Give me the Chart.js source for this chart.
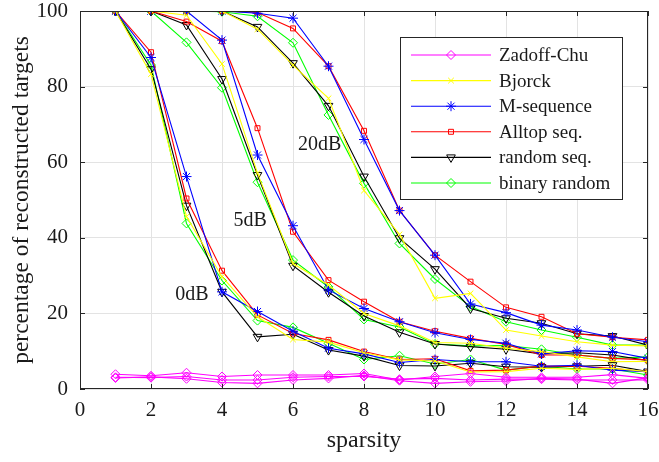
<!DOCTYPE html>
<html>
<head>
<meta charset="utf-8">
<script src="https://cdn.jsdelivr.net/npm/chart.js@4/dist/chart.umd.min.js"></script>
<style>
  html, body { margin: 0; padding: 0; background: #ffffff; }
  #wrap { width: 659px; height: 462px; }
</style>
</head>
<body>
<div id="wrap"><canvas id="c" width="659" height="462"></canvas></div>
<script>
// ---------- data ----------
const sparsity = [1,2,3,4,5,6,7,8,9,10,11,12,13,14,15,16];
const xTicks = [0,2,4,6,8,10,12,14,16];
const yTicks = [0,20,40,60,80,100];

const methodNames = ["Zadoff-Chu", "Bjorck", "M-sequence", "Alltop seq.", "random seq.", "binary random"];
const snrLabels = ["0dB", "5dB", "20dB"];

// Zadoff-Chu (three SNRs, near the bottom)
const zc0  = [3.9, 3.5, 4.3, 3.3, 3.7, 3.7, 3.7, 4.1, 2.4, 3.3, 4.1, 3.1, 3.1, 3.1, 3.8, 2.8];
const zc5  = [3.1, 3.0, 3.3, 2.4, 2.4, 3.1, 3.3, 3.3, 2.6, 2.8, 2.4, 2.6, 2.6, 2.4, 2.4, 2.4];
const zc20 = [2.9, 3.2, 2.7, 1.7, 1.5, 2.4, 2.8, 3.6, 2.2, 1.5, 1.9, 2.1, 2.8, 2.6, 1.5, 3.0];

// 0 dB
const bjorck0 = [100, 83.3, 45.6, 29.7, 19.1, 13.1, 12.4, 9.6, 7.7, 7.4, 4.5, 4.6, 5.5, 5.2, 5.5, 4.6];
const mseq0   = [100, 87.7, 56.2, 25.7, 20.5, 15.3, 10.8, 9.3, 7.0, 7.8, 7.2, 7.2, 6.0, 6.3, 5.0, 4.6];
const alltop0 = [100, 89.1, 50.4, 31.3, 19.6, 14.7, 13.0, 9.9, 7.8, 8.0, 4.8, 5.0, 6.1, 6.0, 5.5, 4.5];
const rand0   = [100, 84.6, 48.5, 25.7, 13.8, 14.5, 10.3, 8.7, 6.2, 6.1, 6.8, 5.9, 5.8, 6.0, 6.3, 4.6];
const binr0   = [100, 85.7, 43.8, 28.7, 18.1, 16.3, 12.1, 7.8, 8.8, 6.6, 7.8, 5.0, 6.0, 5.3, 5.3, 3.7];

// 5 dB
const bjorck5 = [100, 100, 98.9, 86.0, 57.1, 33.2, 27.5, 20.0, 16.7, 12.3, 12.1, 10.8, 9.9, 8.5, 7.2, 7.3];
const mseq5   = [100, 100, 100, 92.3, 61.9, 43.2, 26.2, 21.3, 17.8, 14.9, 13.1, 12.1, 9.3, 10.1, 9.9, 8.1];
const alltop5 = [100, 100, 97.2, 92.0, 69.0, 41.6, 28.8, 23.1, 17.8, 15.3, 13.4, 11.8, 9.0, 9.0, 8.1, 7.7];
const rand5   = [100, 100, 96.3, 82.0, 56.6, 32.6, 25.6, 19.3, 15.0, 11.9, 11.2, 10.5, 9.3, 9.6, 9.0, 7.5];
const binr5   = [100, 100, 91.7, 79.7, 54.7, 34.1, 27.0, 18.4, 16.4, 11.9, 11.4, 11.5, 10.5, 9.0, 8.1, 8.5];

// 20 dB
const bjorck20 = [100, 100, 100, 100, 95.2, 85.7, 76.9, 52.5, 40.9, 24.0, 25.3, 15.6, 14.0, 12.5, 11.6, 11.4];
const mseq20   = [100, 100, 100, 100, 99.4, 98.1, 85.4, 66.0, 47.2, 35.4, 22.5, 20.2, 16.9, 15.6, 13.7, 12.5];
const alltop20 = [100, 100, 100, 100, 99.6, 95.4, 85.4, 68.3, 47.2, 35.4, 28.4, 21.6, 19.1, 14.6, 13.7, 13.0];
const rand20   = [100, 100, 100, 100, 95.8, 86.2, 74.9, 56.2, 39.9, 31.7, 21.3, 18.7, 17.4, 14.6, 14.0, 11.6];
const binr20   = [100, 100, 100, 99.8, 98.6, 91.6, 72.5, 54.4, 38.5, 29.1, 21.8, 17.8, 15.6, 13.7, 11.6, 11.6];

// label anchor points (data coordinates) for the SNR annotations
const snrAnchorX = [3.15, 4.79, 6.75];
const snrAnchorY = [24.9, 44.4, 64.5];

// ---------- styles ----------
const styles = [
  { color: "#ff00ff", point: "rectRot", radius: 4.5, rot: 0 },
  { color: "#ffff00", point: "crossRot", radius: 4, rot: 0 },
  { color: "#0000ff", point: "star", radius: 5, rot: 0 },
  { color: "#ff0000", point: "rect", radius: 3.5, rot: 0 },
  { color: "#000000", point: "triangle", radius: 5, rot: 180 },
  { color: "#00ff00", point: "rectRot", radius: 4.5, rot: 0 }
];

const groups = [
  [zc0, bjorck0, mseq0, alltop0, rand0, binr0],
  [zc5, bjorck5, mseq5, alltop5, rand5, binr5],
  [zc20, bjorck20, mseq20, alltop20, rand20, binr20]
];

const datasets = [];
groups.forEach((g, gi) => {
  g.forEach((arr, mi) => {
    const s = styles[mi];
    datasets.push({
      label: methodNames[mi] + " " + snrLabels[gi],
      data: sparsity.map((x, i) => ({ x: x, y: arr[i] })),
      borderColor: s.color,
      backgroundColor: "rgba(255,255,255,0)",
      pointBackgroundColor: "rgba(255,255,255,0)",
      pointBorderColor: s.color,
      pointStyle: s.point,
      pointRadius: s.radius,
      pointRotation: s.rot,
      pointBorderWidth: 1,
      borderWidth: 1.1,
      tension: 0,
      fill: false
    });
  });
});

const FONT = "'Liberation Serif', 'Times New Roman', serif";
const TXT = "#1a1a1a";
const AXC = "#262626";

// ---------- plugins ----------
const framePlugin = {
  id: "frame",
  afterDraw(chart) {
    const { ctx, chartArea: a, scales } = chart;
    ctx.save();
    ctx.strokeStyle = AXC;
    ctx.lineWidth = 1;
    ctx.strokeRect(Math.round(a.left) + 0.5, Math.round(a.top) + 0.5,
                   Math.round(a.right - a.left) - 1, Math.round(a.bottom - a.top) - 1);
    const tl = 5;
    ctx.beginPath();
    xTicks.forEach(v => {
      const px = Math.round(scales.x.getPixelForValue(v)) + 0.5;
      ctx.moveTo(px, a.bottom); ctx.lineTo(px, a.bottom - tl);
      ctx.moveTo(px, a.top); ctx.lineTo(px, a.top + tl);
    });
    yTicks.forEach(v => {
      const py = Math.round(scales.y.getPixelForValue(v)) + 0.5;
      ctx.moveTo(a.left, py); ctx.lineTo(a.left + tl, py);
      ctx.moveTo(a.right, py); ctx.lineTo(a.right - tl, py);
    });
    ctx.stroke();

    // SNR annotations
    ctx.fillStyle = TXT;
    ctx.font = "20px " + FONT;
    ctx.textAlign = "center";
    ctx.textBaseline = "middle";
    snrLabels.forEach((t, i) => {
      ctx.fillText(t, scales.x.getPixelForValue(snrAnchorX[i]), scales.y.getPixelForValue(snrAnchorY[i]));
    });

    // legend box inside plot area (top right)
    const bx = 400, by = 37, bw = 222, bh = 162;
    ctx.fillStyle = "#ffffff";
    ctx.fillRect(bx, by, bw, bh);
    ctx.strokeStyle = AXC;
    ctx.lineWidth = 1;
    ctx.strokeRect(bx + 0.5, by + 0.5, bw, bh);
    const rowH = 25.6;
    ctx.textAlign = "left";
    ctx.font = "19px " + FONT;
    methodNames.forEach((name, i) => {
      const s = styles[i];
      const y = by + 18 + i * rowH;
      ctx.strokeStyle = s.color;
      ctx.lineWidth = 1.1;
      ctx.beginPath();
      ctx.moveTo(bx + 11, y); ctx.lineTo(bx + 91, y);
      ctx.stroke();
      ctx.fillStyle = "rgba(255,255,255,0)";
      ctx.strokeStyle = s.color;
      ctx.lineWidth = 1;
      Chart.helpers.drawPoint(ctx, {
        pointStyle: s.point, radius: s.radius, rotation: s.rot, borderWidth: 1
      }, bx + 51, y);
      ctx.fillStyle = TXT;
      ctx.fillText(name, bx + 99, y + 1);
    });
    ctx.restore();
  }
};

new Chart(document.getElementById("c"), {
  type: "line",
  data: { datasets: datasets },
  options: {
    responsive: false,
    animation: false,
    devicePixelRatio: 1,
    layout: { padding: { left: 0, right: 11, top: 11, bottom: 0 } },
    plugins: {
      legend: { display: false },
      tooltip: { enabled: false }
    },
    scales: {
      x: {
        type: "linear",
        min: 0, max: 16,
        afterBuildTicks(scale) { scale.ticks = xTicks.map(v => ({ value: v })); },
        afterFit(scale) { scale.height = 73; scale.paddingLeft = 0; scale.paddingRight = 0; },
        grid: { color: "#e3e3e3", drawTicks: false, lineWidth: 1 },
        border: { display: false },
        ticks: { color: TXT, font: { family: FONT, size: 21, lineHeight: 1 }, padding: 11, maxRotation: 0 },
        title: { display: true, text: "sparsity", color: TXT, font: { family: FONT, size: 24, lineHeight: 1.2 }, padding: { top: 0, bottom: 7 } }
      },
      y: {
        type: "linear",
        min: 0, max: 100,
        afterBuildTicks(scale) { scale.ticks = yTicks.map(v => ({ value: v })); },
        afterFit(scale) { scale.width = 80; scale.paddingTop = 0; scale.paddingBottom = 0; },
        grid: { color: "#e3e3e3", drawTicks: false, lineWidth: 1 },
        border: { display: false },
        ticks: { color: TXT, font: { family: FONT, size: 21, lineHeight: 1 }, padding: 12 },
        title: { display: true, text: "percentage of reconstructed targets", color: TXT, font: { family: FONT, size: 23.5, lineHeight: 1.2 }, padding: { top: 8, bottom: 0 } }
      }
    }
  },
  plugins: [framePlugin]
});
</script>
</body>
</html>
